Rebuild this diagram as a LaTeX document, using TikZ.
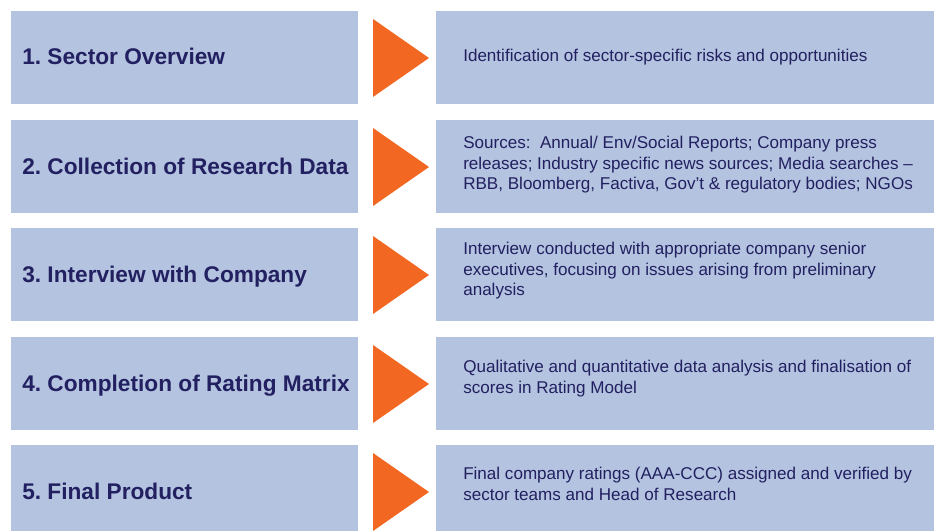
\documentclass[tikz,border=0pt]{standalone}
\usepackage{fontspec}
\setmainfont{Liberation Sans}
\frenchspacing
\usetikzlibrary{shapes.geometric}
\definecolor{boxblue}{RGB}{180,195,224}
\definecolor{arroworange}{RGB}{242,104,34}
\definecolor{textnavy}{RGB}{34,32,96}

\begin{document}
\begin{tikzpicture}[x=0.75pt, y=-0.75pt,
    stepbox/.style={fill=boxblue, minimum width=260.25pt, minimum height=69.75pt, inner sep=0pt, outer sep=0pt},
    infobox/.style={fill=boxblue, minimum width=378pt, minimum height=69.75pt, inner sep=0pt, outer sep=0pt},
    pointer/.style={fill=arroworange, isosceles triangle, isosceles triangle stretches, minimum width=58.5pt, minimum height=42pt, inner sep=0pt, outer sep=0pt, anchor=apex},
    steptitle/.style={anchor=base west, inner sep=0pt, text=textnavy, font=\fontsize{17}{20}\selectfont\bfseries},
    steptext/.style={anchor=north west, inner sep=0pt, align=left, text=textnavy, font=\fontsize{12.8}{15.4}\selectfont}]
    \useasboundingbox (0,0) rectangle (934,531);
    \clip (0,0) rectangle (934,531);
    % Zeilen: Nummer / oberer Rand / Textoberkante / Titel / Beschreibung
    \foreach \n/\y/\ty/\title/\desc in {
        1/11/49/{1. Sector Overview}/{Identification of sector-specific risks and opportunities},
        2/120/136/{2. Collection of Research Data}/{Sources:\ \ Annual/ Env/Social Reports; Company press\\releases; Industry specific news sources; Media searches –\\RBB, Bloomberg, Factiva, Gov’t \& regulatory bodies; NGOs},
        3/228/242/{3. Interview with Company}/{Interview conducted with appropriate company senior\\executives, focusing on issues arising from preliminary\\analysis},
        4/337/360/{4. Completion of Rating Matrix}/{Qualitative and quantitative data analysis and finalisation of\\scores in Rating Model},
        5/445/467/{5. Final Product}/{Final company ratings (AAA-CCC) assigned and verified by\\sector teams and Head of Research}}{
        \node[stepbox] (step\n) at (184.5,\y+46.5) {};
        \node[pointer] (arrow\n) at (429,\y+47) {};
        \node[infobox, anchor=north west] (info\n) at (436,\y) {};
        \node[steptitle] (title\n) at (22,\y+54) {\title};
        \node[steptext] (text\n) at (463,\ty) {\desc};
    }
\end{tikzpicture}
\end{document}
